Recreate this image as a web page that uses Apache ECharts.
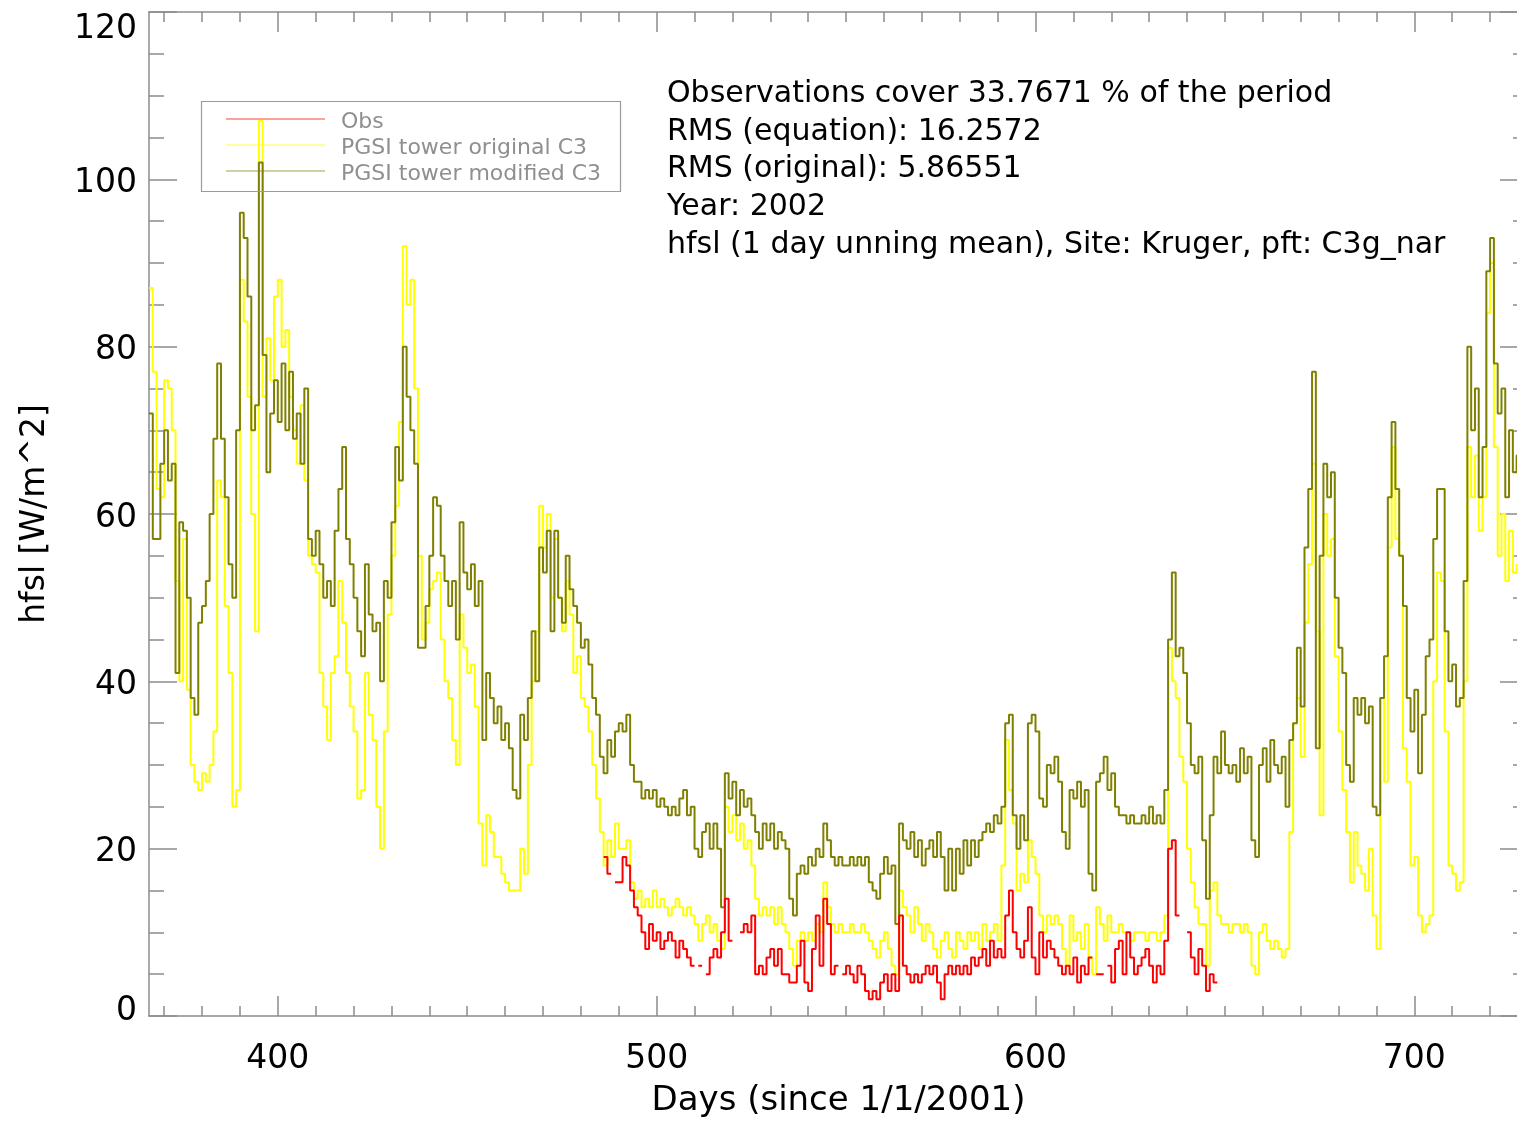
<!DOCTYPE html>
<html><head><meta charset="utf-8">
<script src="https://cdn.jsdelivr.net/npm/echarts@6/dist/echarts.min.js"></script>
<style>html,body{margin:0;padding:0;background:#fff}#c{width:1517px;height:1121px}</style>
</head><body><div id="c"></div><script>
// ---------------- data ----------------
const startDay = 366;   // first day of the model series (days since 1/1/2001)
const endDay = 730;
// PGSI tower original C3 (yellow), daily values from day 366
const original = [
 87,77,63,62,76,75,70,52,40,57,
 39,30,28,27,29,28,30,34,64,62,
 49,41,25,27,88,83,74,60,46,107,
 74,81,76,86,88,80,82,74,70,66,
 73,64,55,54,53,41,37,33,41,43,
 52,47,41,37,34,26,27,41,36,33,
 25,20,34,48,55,61,71,92,85,88,
 75,55,45,47,51,52,53,45,40,38,
 33,30,48,44,41,42,37,23,18,24,
 22,19,19,17,16,15,15,15,20,17,
 30,40,46,61,56,60,50,57,50,46,
 52,48,41,43,38,37,34,30,26,22,
 18,21,19,23,20,20,21,16,14,15,
 13,14,13,15,13,14,13,12,13,14,
 13,12,13,12,11,9,11,12,10,11,
 9,8,25,22,24,21,23,20,21,18,
 14,12,13,12,13,11,13,11,10,8,
 6,9,10,9,10,9,11,10,16,13,
 11,10,11,10,10,11,10,10,11,10,
 9,8,7,9,10,8,6,5,15,13,
 12,10,13,11,9,11,10,8,7,9,
 10,8,7,10,9,8,10,9,10,8,
 11,9,10,11,9,18,33,27,23,15,
 17,16,21,19,17,12,10,12,11,12,
 11,8,6,12,9,10,8,11,7,5,
 13,11,9,12,10,10,11,10,10,9,
 10,10,10,9,10,10,9,10,12,44,
 40,38,31,28,20,16,13,11,11,6,
 15,16,12,11,11,10,11,11,10,11,
 10,6,5,10,11,9,8,9,8,7,
 8,22,35,38,31,47,54,66,46,24,
 60,55,57,43,34,27,22,16,22,18,
 17,15,20,12,8,38,28,56,68,57,
 55,32,28,18,19,12,10,11,12,40,
 53,52,34,18,17,15,16,40,68,62,
 67,58,62,84,90,68,55,60,52,58,
 53,54,52,50
];
// PGSI tower modified C3 (olive), daily values from day 366
const modified = [
 72,57,57,66,70,64,66,41,59,58,
 50,38,36,47,49,52,60,69,78,69,
 62,54,50,70,96,93,86,70,73,102,
 79,65,72,76,71,78,70,77,69,72,
 66,75,57,55,58,54,50,52,49,58,
 63,68,57,54,50,46,43,54,48,46,
 47,40,52,50,59,68,64,80,74,70,
 66,44,44,49,55,62,61,55,52,49,
 52,45,59,53,51,54,49,52,33,41,
 38,35,37,33,35,32,27,26,36,33,
 38,46,40,56,53,58,46,58,50,47,
 55,51,49,47,44,45,42,38,36,31,
 29,33,31,34,35,34,36,30,28,28,
 26,27,26,27,25,26,25,24,25,24,
 26,27,24,25,20,19,22,23,20,23,
 20,13,29,26,28,24,27,25,26,24,
 22,20,23,21,23,20,22,21,20,14,
 12,17,18,17,19,18,20,19,23,21,
 19,18,19,18,18,19,18,19,18,19,
 16,15,14,17,19,17,18,11,23,21,
 20,22,19,21,18,20,21,19,22,19,
 15,20,15,20,17,21,18,21,19,21,
 22,23,22,24,23,25,35,36,24,20,
 24,21,35,36,34,26,25,30,29,31,
 28,22,20,27,26,28,25,27,17,15,
 28,29,31,27,29,25,24,24,23,24,
 23,23,24,23,25,23,24,23,27,45,
 53,43,44,41,35,30,29,31,21,14,
 24,31,29,34,30,29,30,28,32,29,
 31,21,19,30,32,28,33,30,29,31,
 25,33,35,44,37,56,63,77,32,55,
 66,62,65,50,44,41,30,28,38,36,
 38,35,37,25,24,38,43,62,71,63,
 55,49,38,34,39,29,36,43,45,57,
 63,63,46,40,42,37,38,52,80,70,
 75,62,68,89,93,78,72,75,62,70,
 65,67,66,64
];
// Obs (red), daily values from day 486, null = no observation
const obsStartDay = 486;
const obs = [
 19,17,null,16,16,19,18,15,13,12,
 10,8,11,9,10,8,9,10,9,7,
 9,8,7,6,null,6,null,5,7,8,
 7,10,14,9,null,null,10,11,10,12,
 5,6,5,7,8,6,8,5,5,4,
 4,6,9,4,3,8,12,6,14,11,
 5,6,null,5,6,5,4,6,5,3,
 2,3,2,4,5,3,5,3,12,6,
 5,4,5,4,5,6,5,6,4,2,
 5,6,5,6,5,6,5,7,6,7,
 8,6,9,7,8,7,12,15,10,8,
 7,9,13,7,5,10,7,9,8,7,
 6,5,6,5,7,4,6,5,7,null,
 5,5,null,6,4,8,9,5,10,7,
 5,6,7,8,6,4,6,5,9,20,
 21,12,null,null,10,7,5,8,6,3,
 5,4
];
const xMajorTicks = [400, 500, 600, 700];
const xMinorTicks = [370,380,390,410,420,430,440,450,460,470,480,490,510,520,530,540,550,560,570,580,590,610,620,630,640,650,660,670,680,690,710,720,730];
const yMin = 0, yMax = 120, yStep = 20;
const seriesNames = ['Obs', 'PGSI tower original C3', 'PGSI tower modified C3'];
const notes = [
 'Observations cover 33.7671 % of the period',
 'RMS (equation): 16.2572',
 'RMS (original): 5.86551',
 'Year: 2002',
 'hfsl (1 day unning mean), Site: Kruger, pft: C3g_nar'
];
const colors = {obs: '#ff0000', original: '#ffff00', modified: '#808000'};

// ---------------- helpers ----------------
function stepData(first, vals) {
  const out = [];
  vals.forEach((v, i) => {
    const d = first + i;
    if (v === null) { out.push([d, '-']); return; }
    out.push([d, v]); out.push([d + 1, v]);
  });
  return out;
}
const AX = '#8c8c8c';
const FONT = 'DejaVu Sans';
function xAx(pos, ticks, len, showLine, withLabels) {
  const a = {
    type: 'value', position: pos, min: startDay, max: endDay, gridIndex: 0,
    axisLine: {show: showLine, onZero: false, lineStyle: {color: AX, width: 1.5}},
    axisTick: {show: true, inside: true, length: len, customValues: ticks, lineStyle: {color: AX, width: 1.5}},
    axisLabel: {show: false},
    splitLine: {show: false}, minorTick: {show: false}, minorSplitLine: {show: false},
    nameMoveOverlap: false
  };
  if (withLabels) {
    a.axisLabel = {show: true, customValues: xMajorTicks, fontSize: 33, color: '#000', fontFamily: FONT, margin: 27};
    a.name = 'Days (since 1/1/2001)';
    a.nameLocation = 'middle';
    a.nameGap = 68;
    a.nameTextStyle = {fontSize: 34, color: '#000', fontFamily: FONT};
  }
  return a;
}
const labelFont = {fontSize: 33, color: '#000', fontFamily: FONT};
function yAx(pos, withLabels) {
  const a = {
    type: 'value', position: pos, min: yMin, max: yMax, interval: yStep, gridIndex: 0,
    axisLine: {show: true, onZero: false, lineStyle: {color: AX, width: 1.5}},
    axisTick: {show: true, inside: true, length: 28, lineStyle: {color: AX, width: 1.5}},
    minorTick: {show: true, splitNumber: 4, length: 15, lineStyle: {color: AX, width: 1.5}},
    splitLine: {show: false}, minorSplitLine: {show: false},
    axisLabel: {show: false},
    nameMoveOverlap: false
  };
  if (withLabels) {
    a.axisLabel = Object.assign({show: true, margin: 12,
      formatter: v => v === yMin ? '{b|' + v + '}' : (v === yMax ? '{t|' + v + '}' : '{m|' + v + '}'),
      rich: {
        b: Object.assign({padding: [0, 0, 10, 0]}, labelFont),
        t: Object.assign({padding: [34, 0, 0, 0]}, labelFont),
        m: Object.assign({padding: [8, 0, 0, 0]}, labelFont)
      }}, labelFont);
    a.name = 'hfsl [W/m^2]';
    a.nameLocation = 'middle';
    a.nameGap = 97;
    a.nameRotate = 90;
    a.nameTextStyle = {fontSize: 33, color: '#000', fontFamily: FONT};
  }
  return a;
}
const lineSeries = (name, first, vals, color, z) => ({
  name, type: 'line', xAxisIndex: 0, yAxisIndex: 0, data: stepData(first, vals),
  showSymbol: false, symbol: 'none', connectNulls: false, silent: true, z,
  lineStyle: {color, width: 2}, itemStyle: {color}
});

// ---------------- legend & notes as graphics ----------------
const graphics = [];
graphics.push({type: 'rect', shape: {x: 201.5, y: 101.5, width: 419, height: 90},
  style: {fill: null, stroke: '#9a9a9a', lineWidth: 1.2}, z: 100});
const legendItems = [
  {name: seriesNames[0], color: colors.obs, y: 120},
  {name: seriesNames[1], color: colors.original, y: 146},
  {name: seriesNames[2], color: colors.modified, y: 172}
];
legendItems.forEach(it => {
  graphics.push({type: 'line', shape: {x1: 226, y1: it.y - 1, x2: 325, y2: it.y - 1},
    style: {stroke: it.color, lineWidth: 1, opacity: 0.75}, z: 100});
  graphics.push({type: 'text', x: 341, y: it.y + 2, z: 100,
    style: {text: it.name, fill: '#8f8f8f', font: '22px "DejaVu Sans"', verticalAlign: 'middle', align: 'left'}});
});
const noteY = [94, 132, 169, 207, 245];
notes.forEach((t, i) => {
  graphics.push({type: 'text', x: 667, y: noteY[i], z: 100,
    style: {text: t, fill: '#000', font: '30px "DejaVu Sans"', verticalAlign: 'middle', align: 'left'}});
});

const chart = echarts.init(document.getElementById('c'), null, {renderer: 'canvas'});
chart.setOption({
  animation: false,
  backgroundColor: '#fff',
  grid: {left: 149, top: 12, width: 1379, height: 1004, containLabel: false, outerBoundsMode: 'none'},
  xAxis: [
    xAx('bottom', xMajorTicks, 20, true, true),
    xAx('bottom', xMinorTicks, 10, false, false),
    xAx('top', xMajorTicks, 20, true, false),
    xAx('top', xMinorTicks, 10, false, false)
  ],
  yAxis: [yAx('left', true), yAx('right', false)],
  series: [
    lineSeries(seriesNames[1], startDay, original, colors.original, 2),
    lineSeries(seriesNames[2], startDay, modified, colors.modified, 3),
    lineSeries(seriesNames[0], obsStartDay, obs, colors.obs, 4)
  ],
  graphic: graphics
});
</script></body></html>
